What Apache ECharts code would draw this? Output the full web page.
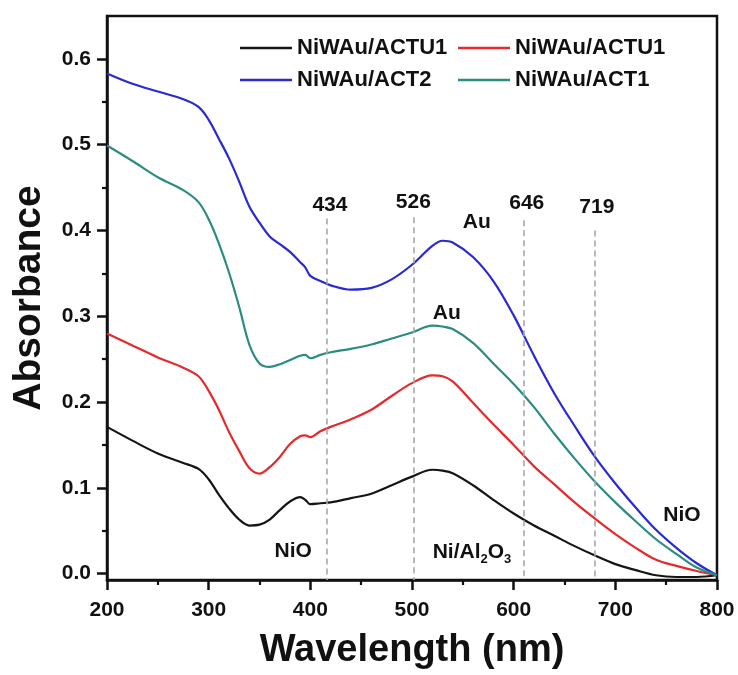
<!DOCTYPE html>
<html>
<head>
<meta charset="utf-8">
<script src="https://cdn.jsdelivr.net/npm/echarts@6/dist/echarts.min.js"></script>
<style>
  html, body { margin: 0; padding: 0; background: #fff; }
  #chart { width: 738px; height: 675px; }
</style>
</head>
<body>
<div id="chart"></div>
<script>
// wavelength grid (nm)
var wavelength = [200,225,250,275,290,300,310,320,330,340,350,360,370,380,390,395,400,410,420,440,460,480,500,520,530,540,560,580,600,620,640,660,680,700,720,740,760,780,800];

// absorbance values
var actu1Black = [.171,.155,.140,.129,.122,.110,.092,.076,.063,.056,.057,.063,.074,.084,.089,.086,.081,.082,.083,.088,.093,.103,.113,.121,.120,.117,.103,.086,.070,.056,.044,.032,.021,.011,.004,-.002,-.004,-.004,-.002];
var actu1Red   = [.280,.266,.252,.240,.230,.213,.191,.165,.143,.123,.1165,.124,.136,.151,.160,.161,.159,.166,.171,.180,.191,.207,.222,.231,.230,.224,.199,.174,.150,.125,.104,.083,.064,.046,.030,.016,.009,.003,-.002];
var act2Blue   = [.583,.571,.562,.553,.544,.529,.507,.484,.457,.428,.409,.393,.384,.375,.363,.357,.347,.341,.336,.331,.333,.343,.360,.382,.388,.386,.369,.341,.301,.254,.210,.172,.136,.105,.077,.051,.030,.012,-.002];
var act1Teal   = [.499,.481,.462,.447,.433,.413,.385,.351,.311,.267,.245,.241,.244,.249,.254,.255,.251,.255,.258,.262,.267,.274,.281,.289,.288,.285,.269,.245,.221,.194,.163,.134,.107,.083,.061,.040,.023,.007,-.002];

var seriesKeys   = ['s1', 's2', 's3', 's4'];
var legendLabels = ['NiWAu/ACTU1', 'NiWAu/ACTU1', 'NiWAu/ACT2', 'NiWAu/ACT1'];
var seriesColors = ['#151515', '#e42a2c', '#2a2ad2', '#2b8c82'];

// y axis ticks
var yMajor = [0, 0.1, 0.2, 0.3, 0.4, 0.5, 0.6];
var yMinor = [0.05, 0.15, 0.25, 0.35, 0.45, 0.55];

// dashed reference lines
var peakTexts = ['434', '526', '646', '719'];
var peakX     = [416.5, 501.3, 610.3, 680];
var peakTop   = [0.414, 0.4155, 0.412, 0.400];
var peakTextY = [0.429, 0.433, 0.4315, 0.4275];
var peakTextX = [419.3, 501.3, 612.9, 681.8];

// other annotations
var noteTexts = ['Au', 'Au', 'NiO', 'Ni/Al{sub|2}O{sub|3}', 'NiO'];
var noteX     = [563.7, 534.2, 383.1, 559, 765.5];
var noteY     = [0.41, 0.303, 0.0263, 0.025, 0.068];

var FONT = "'Liberation Sans', Arial, sans-serif";

function pairs(ys) {
  var out = [];
  for (var i = 0; i < wavelength.length; i++) out.push([wavelength[i], ys[i]]);
  return out;
}

var curveData = [actu1Black, actu1Red, act2Blue, act1Teal];
var series = [];
for (var i = 0; i < curveData.length; i++) {
  series.push({
    name: seriesKeys[i],
    type: 'line',
    data: pairs(curveData[i]),
    smooth: 0.35,
    symbol: 'none',
    clip: false,
    color: seriesColors[i],
    lineStyle: { width: 2.2, color: seriesColors[i] }
  });
}

// dashed lines
var markData = [];
for (var j = 0; j < peakX.length; j++) {
  markData.push([{ coord: [peakX[j], peakTop[j]] }, { coord: [peakX[j], -0.0075] }]);
}
series.push({
  name: 'peaks',
  type: 'line',
  data: [],
  silent: true,
  markLine: {
    silent: true,
    symbol: ['none', 'none'],
    label: { show: false },
    lineStyle: { type: [6, 4], color: '#a8a8a8', width: 1.6 },
    data: markData
  }
});

// text labels
var textData = [];
for (var k = 0; k < peakTexts.length; k++) {
  textData.push({ value: [peakTextX[k], peakTextY[k]], label: { formatter: peakTexts[k] } });
}
for (var m = 0; m < noteTexts.length; m++) {
  textData.push({ value: [noteX[m], noteY[m]], label: { formatter: noteTexts[m] } });
}
series.push({
  name: 'texts',
  type: 'scatter',
  symbolSize: 0,
  silent: true,
  itemStyle: { opacity: 1 },
  data: textData,
  label: {
    show: true,
    position: 'inside',
    opacity: 1,
    color: '#111',
    fontFamily: FONT,
    fontWeight: 'bold',
    fontSize: 21,
    rich: {
      sub: { fontSize: 13, fontWeight: 'bold', fontFamily: FONT, color: '#111', verticalAlign: 'bottom', padding: [14, 0, 0, 0] }
    }
  }
});

var chart = echarts.init(document.getElementById('chart'), null, { renderer: 'canvas' });

function legendFmt(name) {
  return legendLabels[seriesKeys.indexOf(name)];
}

var legendBase = {
  orient: 'vertical',
  top: 32,
  itemGap: 10,
  itemWidth: 52,
  itemHeight: 2.5,
  icon: 'rect',
  selectedMode: false,
  formatter: legendFmt,
  textStyle: { fontFamily: FONT, fontWeight: 'bold', fontSize: 22, color: '#111', lineHeight: 22 }
};

var option = {
  backgroundColor: '#ffffff',
  animation: false,
  legend: [
    Object.assign({}, legendBase, { left: 235, data: ['s1', 's3'] }),
    Object.assign({}, legendBase, { left: 453, data: ['s2', 's4'] })
  ],
  grid: {
    left: 107, right: 21, top: 16, bottom: 95,
    show: true, borderColor: '#111', borderWidth: 2.5
  },
  xAxis: {
    type: 'value',
    min: 200, max: 800, interval: 100,
    name: 'Wavelength (nm)',
    nameLocation: 'middle',
    nameGap: 52,
    nameTextStyle: { fontFamily: FONT, fontWeight: 'bold', fontSize: 38, color: '#111' },
    axisLine: { onZero: false, lineStyle: { color: '#111', width: 2.5 } },
    axisTick: { length: 10, lineStyle: { width: 2.5, color: '#111' } },
    minorTick: { show: true, splitNumber: 2, length: 5, lineStyle: { width: 2.2, color: '#111' } },
    axisLabel: { margin: 20, fontFamily: FONT, fontWeight: 'bold', fontSize: 21, color: '#111' },
    splitLine: { show: false }
  },
  yAxis: [{
    type: 'value',
    min: -0.0075, max: 0.65,
    name: 'Absorbance',
    nameLocation: 'middle',
    nameGap: 58,
    nameRotate: 90,
    nameTextStyle: { fontFamily: FONT, fontWeight: 'bold', fontSize: 39, color: '#111' },
    axisLine: { show: true, lineStyle: { color: '#111', width: 2.5 } },
    axisTick: { show: true, length: 10, customValues: yMajor, lineStyle: { width: 2.5, color: '#111' } },
    axisLabel: {
      margin: 16, customValues: yMajor, fontFamily: FONT, fontWeight: 'bold', fontSize: 21, color: '#111',
      formatter: function (v) { return v.toFixed(1); }
    },
    splitLine: { show: false }
  }, {
    type: 'value',
    min: -0.0075, max: 0.65,
    position: 'left',
    axisLine: { show: false },
    axisTick: { show: true, length: 5, customValues: yMinor, lineStyle: { width: 2.2, color: '#111' } },
    axisLabel: { show: false },
    splitLine: { show: false }
  }],
  series: series
};

chart.setOption(option);
</script>
</body>
</html>
